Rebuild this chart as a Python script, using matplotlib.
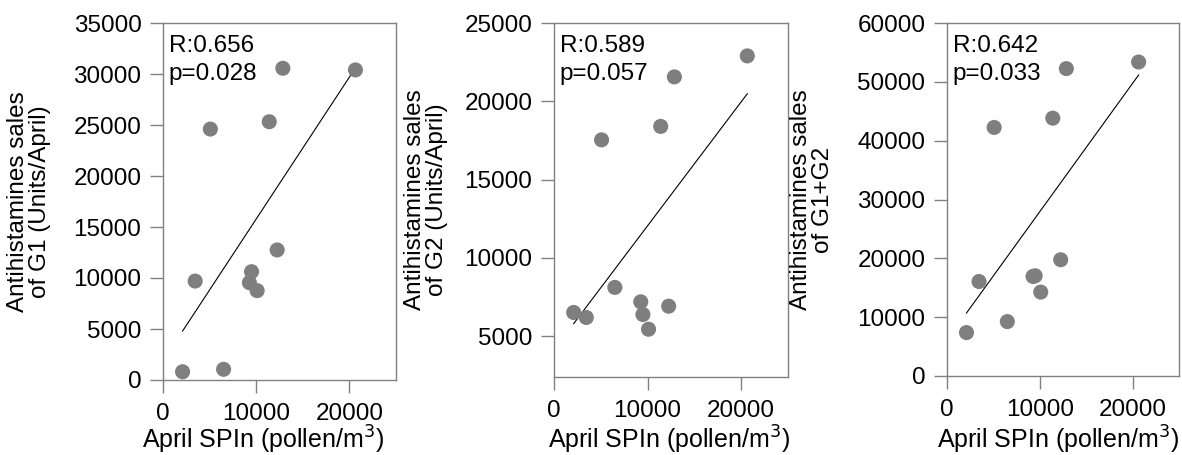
import numpy as np
import matplotlib
matplotlib.use("Agg")
import matplotlib.pyplot as plt

plt.rcParams["font.family"] = ["Liberation Sans", "DejaVu Sans"]
plt.rcParams["font.size"] = 17.5

# April SPIn (pollen/m3) per year
spin = [2100, 3450, 5080, 6500, 9270, 9500, 10100, 11400, 12250, 12860, 20650]
# antihistamine sales (units/April)
sales_g1 = [810, 9700, 24600, 1050, 9540, 10620, 8760, 25320, 12750, 30560, 30400]
sales_g2 = [6520, 6200, 17540, 8120, 7200, 6390, 5450, 18400, 6920, 21560, 22900]
sales_g12 = [7380, 16060, 42250, 9250, 16920, 17040, 14260, 43830, 19760, 52250, 53370]

stats = [("0.656", "0.028"), ("0.589", "0.057"), ("0.642", "0.033")]
ylabels = ["Antihistamines sales\nof G1 (Units/April)",
           "Antihistamines sales\nof G2 (Units/April)",
           "Antihistamines sales\nof G1+G2"]
ylims = [(0, 35000), (2400, 25000), (0, 60000)]
yticks = [np.arange(0, 35001, 5000), np.arange(5000, 25001, 5000), np.arange(0, 60001, 10000)]

W, H = 1182, 455
fig = plt.figure(figsize=(W / 100, H / 100), dpi=100)

# axes boxes in pixels: left, right, top, bottom
boxes = [(163, 396, 23, 380), (554, 788, 23, 377), (947, 1179, 23, 376)]
label_x = [-0.575, -0.545, -0.58]
xlabel_cx = [263, 669, 1058]

gray = "#808080"
for i, ys in enumerate([sales_g1, sales_g2, sales_g12]):
    l, r, t, b = boxes[i]
    ax = fig.add_axes([l / W, 1 - b / H, (r - l) / W, (b - t) / H])

    ax.scatter(spin, ys, s=118, color="#7f7f7f", edgecolors="none", zorder=3)

    # least squares line over the data range
    k, c = np.polyfit(spin, ys, 1)
    xx = np.array([min(spin), max(spin)])
    ax.plot(xx, k * xx + c, color="black", lw=0.8, zorder=2)

    ax.set_xlim(0, 25000)
    ax.set_ylim(*ylims[i])
    ax.set_xticks([0, 10000, 20000])
    ax.set_yticks(yticks[i])

    for sp in ax.spines.values():
        sp.set_color(gray)
        sp.set_linewidth(1.0)
    ax.tick_params(direction="out", length=9.5, width=1.0, color=gray, pad=6)
    ax.tick_params(axis="x", pad=7)

    ax.text(0.025, 0.965, "R:%s\np=%s" % stats[i], transform=ax.transAxes,
            ha="left", va="top", fontsize=17.5, linespacing=1.35)

    ax.set_xlabel("April SPIn (pollen/m$^3$)", fontsize=18)
    ax.xaxis.set_label_coords((xlabel_cx[i] - l) / (r - l), (b - 424) / (b - t))
    ax.set_ylabel(ylabels[i], va="center", linespacing=1.0)
    ax.yaxis.set_label_coords(label_x[i], 0.5)

fig.savefig("out.png", dpi=100)
